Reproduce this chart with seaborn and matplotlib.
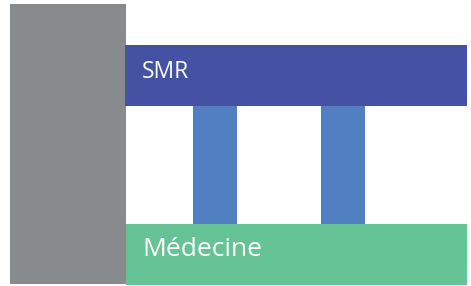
import matplotlib
matplotlib.use("Agg")
import matplotlib.pyplot as plt
import seaborn as sns

# blocks of the diagram (x0, x1, y0, y1 in picture units, y going down)
noms = ["", "SMR", "", "", "Médecine"]
x_debut = [10, 125, 193, 321, 126]
x_fin = [126, 467, 237, 365, 467]
y_haut = [4, 45, 106, 106, 224]
y_bas = [284, 106, 224, 224, 285]
couleurs = ["#888b8d", "#4552a3", "#5080c1", "#5080c1", "#66c396"]

sns.set_theme(style="white")
plt.rcParams['font.family'] = ['Open Sans', 'DejaVu Sans']

fig = plt.figure(figsize=(4.71, 2.86), dpi=100)
ax = fig.add_axes([0, 0, 1, 1])

larg = [f - d for d, f in zip(x_debut, x_fin)]
haut = [b - h for h, b in zip(y_haut, y_bas)]
ax.bar(x_debut, haut, width=larg, bottom=y_haut, align='edge',
       color=couleurs, linewidth=0)

for nom, x0, y0, h in zip(noms, x_debut, y_haut, haut):
    if nom == "SMR":
        ax.text(x0 + 17, y0 + h / 2 - 4, nom, color='white', fontsize=16.5,
                ha='left', va='center')
    elif nom:
        ax.text(x0 + 16, y0 + h / 2 - 5, nom, color='white', fontsize=19,
                ha='left', va='center')

ax.set_xlim(0, 471)
ax.set_ylim(286, 0)
ax.axis('off')

fig.savefig("out.png", dpi=100, facecolor='white')
